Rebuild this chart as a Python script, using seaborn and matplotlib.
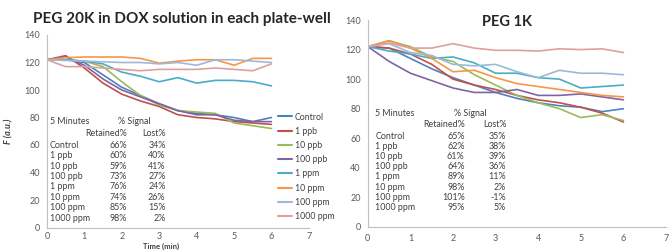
import numpy as np
import pandas as pd
import matplotlib
matplotlib.use("Agg")
import matplotlib.pyplot as plt
import seaborn as sns

# ---- data ----
time_min = [0, 0.5, 1, 1.5, 2, 2.5, 3, 3.5, 4, 4.5, 5, 5.5, 6]
series = ["Control", "1 ppb", "10 ppb", "100 ppb", "1 ppm", "10 ppm", "100 ppm", "1000 ppm"]
colors = ["#4F81BD", "#C0504D", "#9BBB59", "#8064A2", "#4BACC6", "#F79646", "#9DB9D9", "#DDA09E"]

# PEG 20K
peg20_control = [122, 122, 120, 111, 102, 96, 90, 85, 83, 82, 80, 77, 80]
peg20_1ppb = [122, 125, 116, 105, 97, 92, 88, 82, 80, 79, 77, 76, 75]
peg20_10ppb = [122, 122, 121, 117, 106, 96, 89, 85, 84, 83, 76, 74, 72]
peg20_100ppb = [122, 124, 118, 108, 100, 95, 90, 85, 82, 82, 78, 77, 77]
peg20_1ppm = [122, 122, 121, 119, 113, 110, 106, 109, 105, 107, 107, 106, 103]
peg20_10ppm = [122, 123.5, 124, 124, 124, 123, 119.5, 121, 122, 122, 118, 123, 123]
peg20_100ppm = [122, 121.5, 121, 120.5, 120, 120, 119, 120, 118, 122, 122, 121, 120]
peg20_1000ppm = [122, 117, 117, 116, 115, 114, 115, 115, 115, 116, 115, 114, 119]

# PEG 1K
peg1_control = [122, 121, 114, 107, 101, 96, 91, 87, 84, 82, 81, 78, 80]
peg1_1ppb = [122, 121, 117, 110, 100, 96, 93, 89, 86, 84, 81, 77, 71]
peg1_10ppb = [122, 126, 122, 115, 112, 103, 96, 89, 84, 80, 74, 76, 72]
peg1_100ppb = [122, 112, 104, 99, 94, 91, 91, 93, 89, 89, 90, 88, 86]
peg1_1ppm = [122, 119, 117, 114, 115, 111, 104, 104, 101, 100, 94, 95, 96]
peg1_10ppm = [122, 126, 121, 114, 105, 106, 101, 97, 95, 93, 91, 89, 88]
peg1_100ppm = [122, 124, 118, 116, 110, 109, 110, 105, 101, 106, 104, 104, 103]
peg1_1000ppm = [122, 124.5, 121, 121, 124, 121, 119.5, 119.5, 119, 120.5, 120, 120.5, 118]

# 5 minute table
retained20 = ["66%", "60%", "59%", "73%", "76%", "74%", "85%", "98%"]
lost20 = ["34%", "40%", "41%", "27%", "24%", "26%", "15%", "2%"]
retained1 = ["65%", "62%", "61%", "64%", "89%", "98%", "101%", "95%"]
lost1 = ["35%", "38%", "39%", "36%", "11%", "2%", "-1%", "5%"]


def to_long(cols):
    frames = []
    for name, vals in zip(series, cols):
        frames.append(pd.DataFrame({"time": time_min, "F": vals, "series": name}))
    return pd.concat(frames, ignore_index=True)


df20 = to_long([peg20_control, peg20_1ppb, peg20_10ppb, peg20_100ppb,
                peg20_1ppm, peg20_10ppm, peg20_100ppm, peg20_1000ppm])
df1 = to_long([peg1_control, peg1_1ppb, peg1_10ppb, peg1_100ppb,
               peg1_1ppm, peg1_10ppm, peg1_100ppm, peg1_1000ppm])

sns.set_style("white")
plt.rcParams["font.family"] = ["Lato", "DejaVu Sans"]
txt_col = "#404040"
tick_col = "#595959"

fig = plt.figure(figsize=(6.7, 2.5), dpi=100)
ax1 = fig.add_axes([0.070, 0.090, 0.391, 0.770])
ax2 = fig.add_axes([0.549, 0.092, 0.445, 0.828])

palette = dict(zip(series, colors))
sns.lineplot(data=df20, x="time", y="F", hue="series", palette=palette,
             hue_order=series, ax=ax1, linewidth=1.2, legend=True)
sns.lineplot(data=df1, x="time", y="F", hue="series", palette=palette,
             hue_order=series, ax=ax2, linewidth=1.2, legend=False)

for ax in (ax1, ax2):
    ax.set_xlim(0, 7)
    ax.set_ylim(0, 140)
    ax.set_xticks(range(0, 8))
    ax.set_yticks(range(0, 141, 20))
    for s in ("top", "right"):
        ax.spines[s].set_visible(False)
    for s in ("left", "bottom"):
        ax.spines[s].set_color("#BFBFBF")
        ax.spines[s].set_linewidth(0.8)
    ax.tick_params(axis="both", direction="out", length=3, width=0.8,
                   color="#BFBFBF", labelsize=6.5, labelcolor=tick_col, pad=2)
    ax.set_xlabel("")
    ax.set_ylabel("")
ax1.tick_params(axis="x", pad=0.5)

# x label sits just under the "3" tick, as in the reference
fig.text(0.240, 0.002, "Time (min)", ha="center", va="bottom", fontsize=5.6,
         fontweight="bold", color=txt_col)
ax1.set_ylabel("F (a.u.)", fontsize=6.5, fontweight="bold", fontstyle="italic",
               color=txt_col, labelpad=8)
fig.text(0.272, 0.925, "PEG 20K in DOX solution in each plate-well",
         ha="center", va="center", fontsize=11, fontweight="bold", color="#262626")
fig.text(0.757, 0.912, "PEG 1K", ha="center", va="center",
         fontsize=10.5, fontweight="bold", color="#262626")

leg = ax1.legend(loc="upper left", bbox_to_anchor=(0.415, 0.550),
                 bbox_transform=fig.transFigure, frameon=False, fontsize=6.3,
                 handlelength=1.6, handletextpad=0.3, labelspacing=0.6,
                 borderaxespad=0, borderpad=0)
for t in leg.get_texts():
    t.set_color(txt_col)
for h in leg.get_lines():
    h.set_linewidth(1.5)


def draw_table(ax, retained, lost, x_name, x_ret, x_lost, y_head, dy):
    kw = dict(transform=ax.transData, fontsize=6.4, color=txt_col, va="center")
    ax.text(x_name, y_head, "5 Minutes", ha="left", **kw)
    ax.text(x_ret - 0.25, y_head, "% Signal", ha="left", **kw)
    ax.text(x_ret, y_head - dy * 1.15, "Retained%", ha="right", **kw)
    ax.text(x_lost, y_head - dy * 1.15, "Lost%", ha="right", **kw)
    for i, name in enumerate(series):
        y = y_head - dy * (2.25 + i)
        ax.text(x_name, y, name, ha="left", **kw)
        ax.text(x_ret, y, retained[i], ha="right", **kw)
        ax.text(x_lost, y, lost[i], ha="right", **kw)


draw_table(ax1, retained20, lost20, 0.08, 2.14, 3.17, 77, 7.6)
draw_table(ax2, retained1, lost1, 0.18, 2.27, 3.25, 77, 6.9)

fig.savefig("out.png", dpi=100)
